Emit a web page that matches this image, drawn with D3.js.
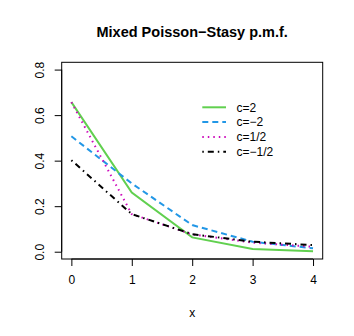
<!DOCTYPE html>
<html>
<head>
<meta charset="utf-8">
<script src="https://cdn.jsdelivr.net/npm/d3@7"></script>
<style>
  body { margin: 0; background: #fff; }
  svg { display: block; font-family: "Liberation Sans", Arial, sans-serif; }
</style>
</head>
<body>
<div id="chart"></div>
<script>
// values
const xs = [0, 1, 2, 3, 4];
const seriesNames = ['c=2', 'c=\u22122', 'c=1/2', 'c=\u22121/2'];
const cPos2 = [0.657, 0.260, 0.063, 0.012, 0.002];
const cNeg2 = [0.507, 0.300, 0.117, 0.044, 0.015];
const cHalf = [0.657, 0.165, 0.076, 0.040, 0.022];
const cNegHalf = [0.402, 0.165, 0.077, 0.044, 0.029];
const xTicks = [0, 1, 2, 3, 4];
const yTicks = [0, 0.2, 0.4, 0.6, 0.8];

const styles = [
  { color: '#61D04F', dash: null, width: 2 },
  { color: '#2297E6', dash: '6,4', width: 2 },
  { color: '#CD0BBC', dash: '1.5,4', width: 2 },
  { color: '#000000', dash: '1.5,4,6,4', width: 2 }
];
const series = [cPos2, cNeg2, cHalf, cNegHalf].map((vals, i) => ({
  name: seriesNames[i],
  values: vals.map((v, j) => ({ x: xs[j], y: v })),
  style: styles[i]
}));

const W = 354, H = 336;
const box = { left: 61.7, right: 322.7, top: 62.3, bottom: 259 };
const font = 'Liberation Sans, Arial, sans-serif';

const svg = d3.select('#chart').append('svg')
  .attr('width', W).attr('height', H);

// R style 4% extension
const x = d3.scaleLinear().domain([-0.16, 4.16]).range([box.left, box.right]);
const y = d3.scaleLinear().domain([-0.032, 0.832]).range([box.bottom, box.top]);

// title
svg.append('text')
  .attr('x', (box.left + box.right) / 2)
  .attr('y', 37)
  .attr('text-anchor', 'middle')
  .attr('font-weight', 'bold')
  .attr('font-size', '14.5px')
  .text('Mixed Poisson\u2212Stasy p.m.f.');

// series lines
const line = d3.line().x(d => x(d.x)).y(d => y(d.y));
series.forEach(s => {
  svg.append('path')
    .datum(s.values)
    .attr('d', line)
    .attr('fill', 'none')
    .attr('stroke', s.style.color)
    .attr('stroke-width', s.style.width)
    .attr('stroke-dasharray', s.style.dash);
});

// box
svg.append('rect')
  .attr('x', box.left).attr('y', box.top)
  .attr('width', box.right - box.left).attr('height', box.bottom - box.top)
  .attr('fill', 'none').attr('stroke', '#000').attr('stroke-width', 1);

// x axis
const xAxis = svg.append('g')
  .attr('transform', `translate(0,${box.bottom})`)
  .call(d3.axisBottom(x).tickValues(xTicks).tickFormat(d3.format('d')).tickSizeOuter(0).tickSize(7).tickPadding(9));
xAxis.select('.domain').attr('d', `M${x(0)},0H${x(4)}`);
xAxis.selectAll('text').attr('font-size', '12px').attr('font-family', font).attr('fill', '#000');

// y axis
const yAxis = svg.append('g')
  .attr('transform', `translate(${box.left},0)`)
  .call(d3.axisLeft(y).tickValues(yTicks).tickFormat(d3.format('.1f')).tickSizeOuter(0).tickSize(7));
yAxis.select('.domain').attr('d', `M0,${y(0)}V${y(0.8)}`);
yAxis.selectAll('text')
  .attr('font-size', '12px')
  .attr('font-family', font)
  .attr('fill', '#000')
  .attr('text-anchor', 'middle')
  .attr('dy', null)
  .attr('x', null)
  .attr('transform', 'translate(-18,0) rotate(-90)')
  .attr('y', 0);

// x label
svg.append('text')
  .attr('x', (box.left + box.right) / 2)
  .attr('y', 317)
  .attr('text-anchor', 'middle')
  .attr('font-size', '12px')
  .text('x');

// legend
const legend = svg.append('g');
series.forEach((s, i) => {
  const ly = 107.3 + i * 14.8;
  legend.append('line')
    .attr('x1', 202.3).attr('x2', 226)
    .attr('y1', ly).attr('y2', ly)
    .attr('stroke', s.style.color)
    .attr('stroke-width', s.style.width)
    .attr('stroke-dasharray', s.style.dash);
  legend.append('text')
    .attr('x', 236.5).attr('y', ly + 4.3)
    .attr('font-size', '12px')
    .text(s.name);
});
</script>
</body>
</html>
